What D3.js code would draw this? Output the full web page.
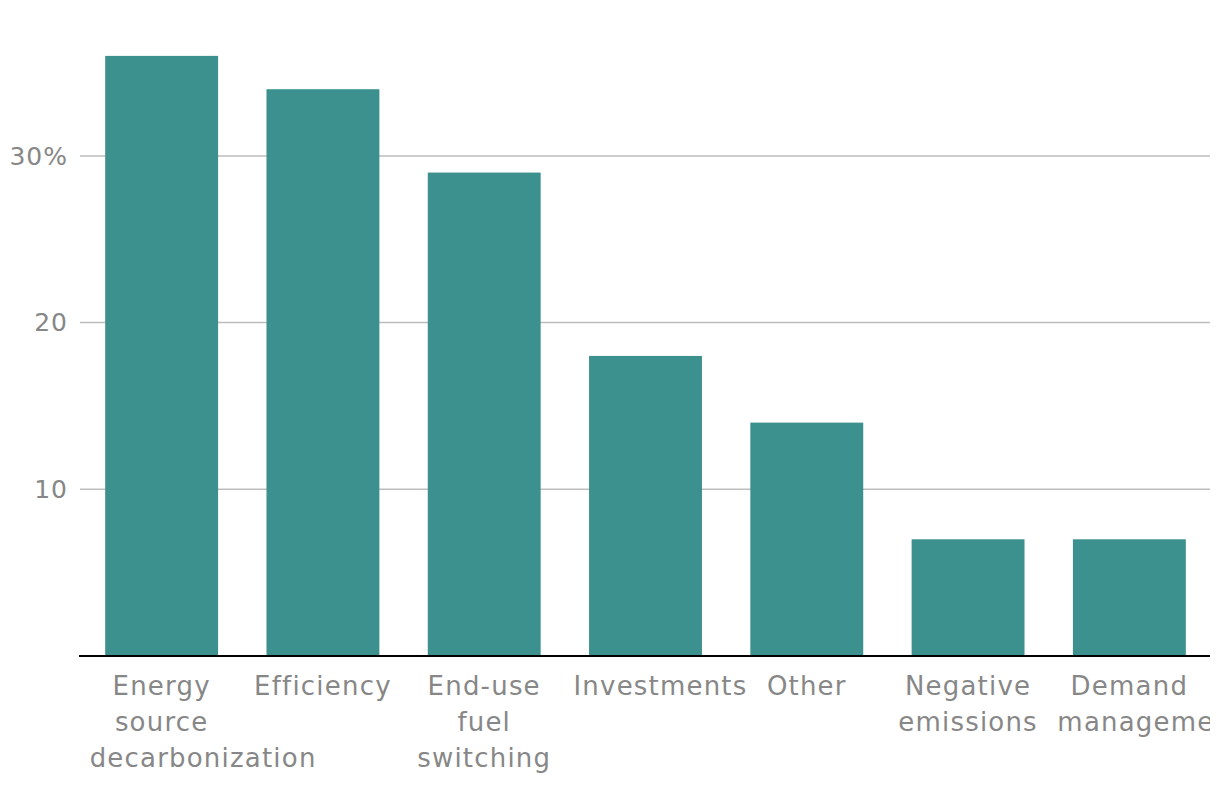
<!DOCTYPE html>
<html>
<head>
<meta charset="utf-8">
<script src="https://cdn.jsdelivr.net/npm/d3@7"></script>
<style>
  body { margin: 0; background: #fff; }
  svg text { font-family: "DejaVu Sans", sans-serif; fill: #878787; }
</style>
</head>
<body>
<div id="chart"></div>
<script>
'use strict'

let categories = [
  ['Energy', 'source', 'decarbonization'],
  ['Efficiency'],
  ['End-use', 'fuel', 'switching'],
  ['Investments'],
  ['Other'],
  ['Negative', 'emissions'],
  ['Demand', 'management']
];
let shares = [36, 34, 29, 18, 14, 7, 7];
let yTicks = [10, 20, 30];

let width = 1220, height = 792;
let margin = {top: 40, right: 10, bottom: 136, left: 80};
let labelBox = 144;

let svg = d3.select('#chart').append('svg')
  .attr('width', width)
  .attr('height', height);

svg.append('defs').append('clipPath').attr('id', 'clip')
  .append('rect').attr('x', 0).attr('y', 0).attr('width', width - margin.right).attr('height', height);

let x = d3.scaleBand()
  .domain(d3.range(categories.length))
  .range([margin.left + 1, width - margin.right])
  .paddingInner(0.3)
  .paddingOuter(0.15);

let y = d3.scaleLinear()
  .domain([0, 36])
  .range([height - margin.bottom, height - margin.bottom - 36 * 16.67]);

// gridlines
svg.append('g').selectAll('line')
  .data(yTicks)
  .enter().append('line')
  .attr('x1', margin.left)
  .attr('x2', width - margin.right)
  .attr('y1', function(d) { return y(d); })
  .attr('y2', function(d) { return y(d); })
  .attr('stroke', '#bdbdbd')
  .attr('stroke-width', 1.5);

svg.append('g').selectAll('text')
  .data(yTicks)
  .enter().append('text')
  .attr('x', 68)
  .attr('y', function(d) { return y(d); })
  .attr('dy', '0.35em')
  .attr('text-anchor', 'end')
  .style('font-size', '25px')
  .style('letter-spacing', '1px')
  .text(function(d, i) { return i === yTicks.length - 1 ? d + '%' : d; });

// bars
svg.append('g').selectAll('rect')
  .data(shares)
  .enter().append('rect')
  .attr('x', function(d, i) { return x(i); })
  .attr('width', x.bandwidth())
  .attr('y', function(d) { return y(d); })
  .attr('height', function(d) { return y(0) - y(d); })
  .attr('fill', '#3c918e');

// baseline
svg.append('line')
  .attr('x1', margin.left - 1)
  .attr('x2', width - margin.right)
  .attr('y1', y(0))
  .attr('y2', y(0))
  .attr('stroke', '#000')
  .attr('stroke-width', 2);

// category labels: centred in a box, long words start at the box edge
let lbl = svg.append('g').attr('clip-path', 'url(#clip)').selectAll('text')
  .data(categories)
  .enter().append('text')
  .style('font-size', '26px')
  .style('letter-spacing', '1.2px')
  .attr('transform', function(d, i) { return 'translate(' + (x(i) + x.bandwidth() / 2) + ',' + (y(0) + 39) + ')'; });

lbl.selectAll('tspan')
  .data(function(d) { return d; })
  .enter().append('tspan')
  .attr('y', function(d, i) { return i * 36; })
  .text(function(d) { return d; })
  .each(function() {
    let w = this.getComputedTextLength();
    if (w > labelBox) {
      d3.select(this).attr('x', -labelBox / 2).attr('text-anchor', 'start');
    } else {
      d3.select(this).attr('x', 0).attr('text-anchor', 'middle');
    }
  });
</script>
</body>
</html>
